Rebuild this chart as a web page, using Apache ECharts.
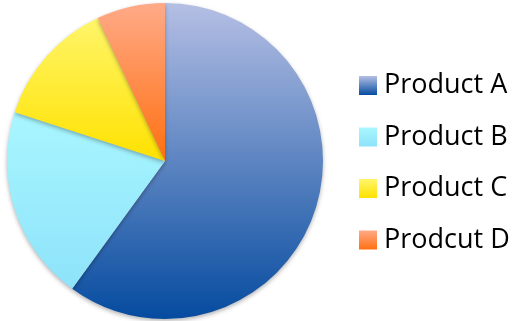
<!DOCTYPE html>
<html>
<head>
<meta charset="utf-8">
<script src="https://cdn.jsdelivr.net/npm/echarts@6/dist/echarts.min.js"></script>
<style>
  html, body { margin: 0; padding: 0; background: #fff; }
  #chart { width: 512px; height: 321px; }
</style>
</head>
<body>
<div id="chart"></div>
<script>
// 产品占比
var categories = ["Product A", "Product B", "Product C", "Prodcut D"];
var values = [60, 20, 13, 7];
// 每块的渐变色 (上, 下)
var topColors = ["#b5bfe4", "#a8f6ff", "#fff56a", "#ffaa88"];
var bottomColors = ["#054b9f", "#8ee3fa", "#ffe200", "#ff7010"];

var myChart = echarts.init(document.getElementById('chart'));

var pieData = categories.map(function (name, i) {
    return {
        name: name,
        value: values[i],
        itemStyle: {
            color: new echarts.graphic.LinearGradient(0, 0, 0, 1, [
                { offset: 0, color: topColors[i] },
                { offset: 1, color: bottomColors[i] }
            ])
        }
    };
});

var option = {
    animation: false,
    legend: {
        orient: "vertical",
        left: 359,
        top: 70,
        padding: 0,
        itemWidth: 18,
        itemHeight: 19,
        itemGap: 20.5,
        icon: "rect",
        textStyle: {
            fontFamily: "Open Sans",
            fontSize: 27,
            color: "#000",
            lineHeight: 31,
            padding: [0, 0, 0, 2]
        },
        data: categories
    },
    series: [
        {
            name: "Sales",
            type: "pie",
            center: [165, 161],
            radius: 158,
            startAngle: 90,
            label: { show: false },
            labelLine: { show: false },
            itemStyle: {
                borderWidth: 0,
                shadowBlur: 4,
                shadowOffsetY: 2,
                shadowColor: "rgba(0,0,0,0.3)"
            },
            emphasis: { disabled: true },
            data: pieData
        }
    ]
};
// 为echarts对象加载数据
myChart.setOption(option);
</script>
</body>
</html>
